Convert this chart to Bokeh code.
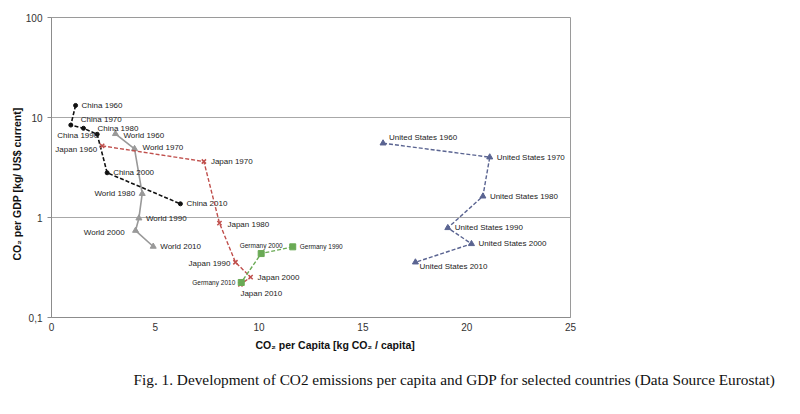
from bokeh.plotting import figure
from bokeh.models import ColumnDataSource, Range1d, FixedTicker, CustomJSTickFormatter, Title
from bokeh.embed import file_html
from bokeh.resources import INLINE

# ---- data ----
years = [1960, 1970, 1980, 1990, 2000, 2010]
china_x = [1.16, 0.93, 1.54, 2.20, 2.68, 6.21]
china_y = [13.2, 8.4, 7.8, 6.8, 2.8, 1.37]
japan_x = [2.44, 7.34, 8.09, 8.86, 9.59, 9.10]
japan_y = [5.2, 3.63, 0.88, 0.357, 0.253, 0.214]
germany_years = [1990, 2000, 2010]
germany_x = [11.62, 10.10, 9.14]
germany_y = [0.509, 0.436, 0.224]
world_x = [3.08, 4.00, 4.37, 4.21, 4.05, 4.90]
world_y = [6.87, 4.86, 1.73, 0.984, 0.74, 0.513]
us_x = [15.97, 21.11, 20.78, 19.09, 20.23, 17.53]
us_y = [5.53, 4.01, 1.63, 0.788, 0.545, 0.357]
x_ticks = [0, 5, 10, 15, 20, 25]
y_ticks = [0.1, 1, 10, 100]
y_tick_labels = ["0,1", "1", "10", "100"]

# ---- label placement (screen px offsets, align) ----
china_off = [(6, 0, "left"), (10, -6, "left"), (14, 0, "left"), (1, 1, "right"), (6, 0, "left"), (6, 0, "left")]
japan_off = [(-5, 4, "right"), (7, 0, "left"), (8, 1, "left"), (-5, 1, "right"), (7, 0, "left"), (0, 9, "left")]
germany_off = [(7, 0, "left"), (0, -8, "center"), (-6, 0, "right")]
world_off = [(8, 2, "left"), (8, -1, "left"), (-7, 0, "right"), (7, 0, "left"), (-11, 2, "right"), (7, 0, "left")]
us_off = [(6, -6, "left"), (7, 0, "left"), (7, 0, "left"), (7, 0, "left"), (7, 0, "left"), (4, 4, "left")]

FONT = "Liberation Sans"

p = figure(frame_width=519, frame_height=300, y_axis_type="log",
           x_range=Range1d(0, 25), y_range=Range1d(0.1, 100),
           output_backend="svg", toolbar_location=None,
           min_border_left=51, min_border_right=222, min_border_top=17, min_border_bottom=86)

p.outline_line_color = "#9a9a9a"
p.xgrid.visible = False
p.ygrid.grid_line_color = "#a8a8a8"
p.ygrid.ticker = FixedTicker(ticks=y_ticks)

p.xaxis.ticker = FixedTicker(ticks=x_ticks)
p.yaxis.ticker = FixedTicker(ticks=y_ticks, minor_ticks=[])
p.yaxis.formatter = CustomJSTickFormatter(
    args=dict(vals=y_ticks, labs=y_tick_labels),
    code="""
    for (let i = 0; i < vals.length; i++) {
        if (Math.abs(Math.log10(tick) - Math.log10(vals[i])) < 1e-6) return labs[i];
    }
    return '';
    """)
for ax in (p.xaxis[0], p.yaxis[0]):
    ax.axis_line_color = "#8c8c8c"
    ax.major_tick_line_color = "#8c8c8c"
    ax.minor_tick_line_color = None
    ax.major_label_text_font = FONT
    ax.major_label_text_font_size = "10px"
    ax.major_label_text_color = "#333333"
p.xaxis.major_tick_in = 0
p.xaxis.major_tick_out = 0
p.yaxis.major_tick_in = 0
p.yaxis.major_tick_out = 4

# axis titles placed like the reference (centred on the chart area, not the plot area)
ytitle = Title(text="CO\u2082 per GDP [kg/ US$ current]", align="left", offset=57, standoff=0,
               text_font=FONT, text_font_size="10.5px", text_font_style="bold", text_color="#111111")
p.add_layout(ytitle, "left")
xtitle = Title(text="CO\u2082 per Capita [kg CO\u2082 / capita]", align="left", offset=204, standoff=6,
               text_font=FONT, text_font_size="10.5px", text_font_style="bold", text_color="#111111")
p.add_layout(xtitle, "below")


def series(name, yrs, xs, ys, offs, color, dash, width, marker, msize, fsize):
    src = ColumnDataSource(dict(x=xs, y=ys))
    p.line("x", "y", source=src, line_color=color, line_dash=dash, line_width=width)
    if marker == "x":
        p.scatter("x", "y", source=src, marker="x", size=msize, line_color=color, line_width=1.5)
    else:
        p.scatter("x", "y", source=src, marker=marker, size=msize, fill_color=color, line_color=color)
    lab = ColumnDataSource(dict(
        x=xs, y=ys,
        t=[f"{name} {yr}" for yr in yrs],
        dx=[o[0] for o in offs], dy=[o[1] for o in offs], al=[o[2] for o in offs]))
    p.text("x", "y", text="t", source=lab, x_offset="dx", y_offset="dy", text_align="al",
           text_baseline="middle", text_font_size=fsize, text_color="#222222",
           text_font={"value": FONT})


series("World", years, world_x, world_y, world_off, "#999999", "solid", 1.6, "triangle", 6, "8px")
series("China", years, china_x, china_y, china_off, "#111111", "4 2", 1.6, "circle", 4, "8px")
series("Japan", years, japan_x, japan_y, japan_off, "#c0504d", "4 2", 1.4, "x", 6, "8px")
series("Germany", germany_years, germany_x, germany_y, germany_off, "#6aaa55", "4 2", 1.4, "square", 6, "6.5px")
series("United States", years, us_x, us_y, us_off, "#5a6491", "4 2", 1.4, "triangle", 6, "8px")

cap = Title(text="Fig. 1. Development of CO2 emissions per capita and GDP for selected countries (Data Source Eurostat)",
            align="left", offset=82, standoff=31,
            text_font="Liberation Serif", text_font_size="15.3px", text_font_style="normal",
            text_color="#111111")
p.add_layout(cap, "below")

open("out.html", "w").write(file_html(p, INLINE))
